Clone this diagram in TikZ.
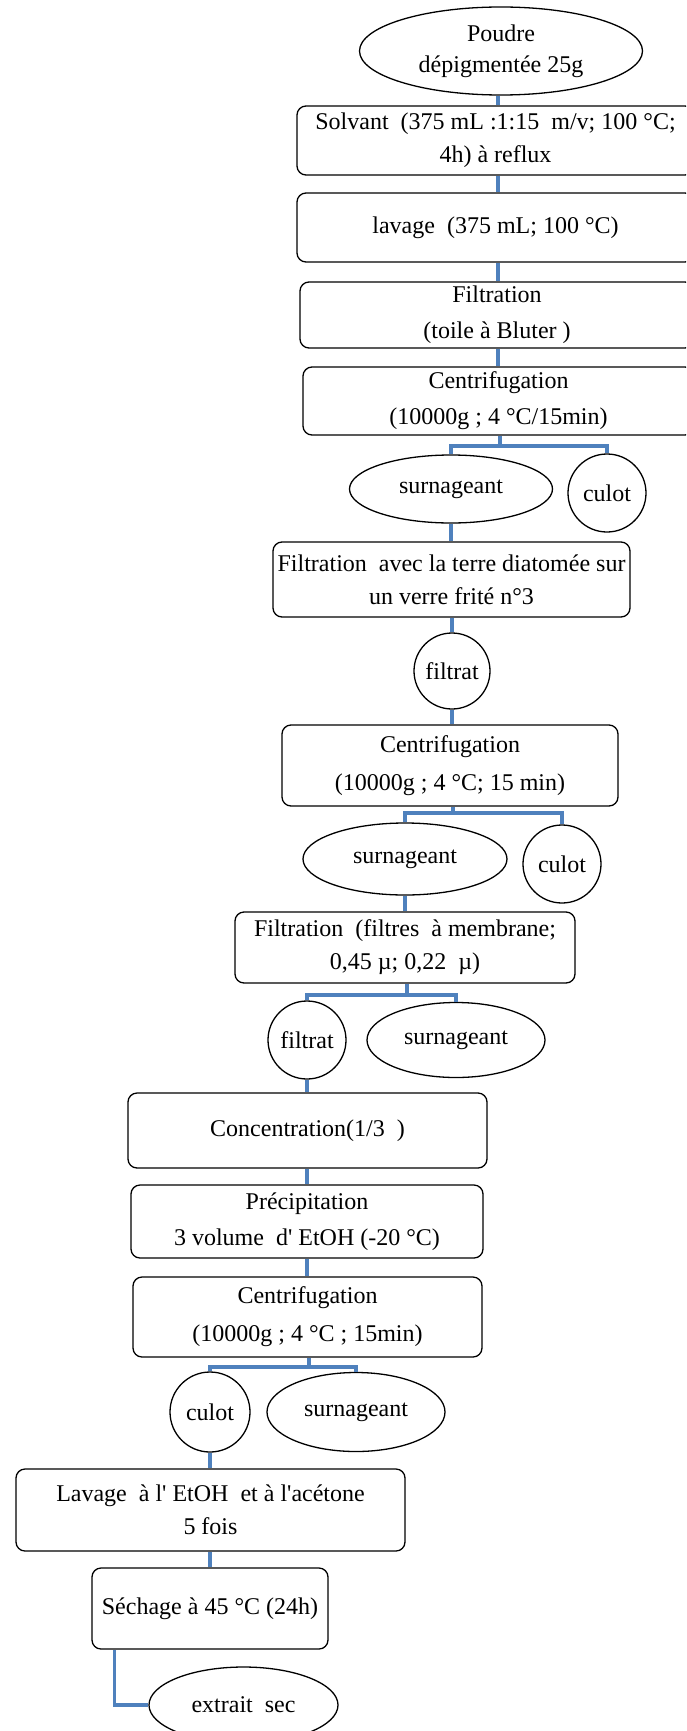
\documentclass[tikz,border=0pt]{standalone}
\usepackage{fontspec}
\setmainfont{Liberation Serif}
\usetikzlibrary{shapes.geometric, positioning}
\definecolor{LinkBlue}{HTML}{4F81BD}
\tikzset{
    % process steps - rounded boxes
    stepbox/.style={
        rectangle,
        rounded corners=9pt,
        draw=black,
        line width=1.3pt,
        inner sep=2pt,
        align=center,
        font=\fontsize{24}{33}\selectfont
    },
    % products - ellipses
    product/.style={
        ellipse,
        draw=black,
        line width=1.3pt,
        inner sep=0pt,
        align=center,
        font=\fontsize{24}{31}\selectfont
    },
    % residues - circles
    residue/.style={
        circle,
        draw=black,
        line width=1.3pt,
        inner sep=0pt,
        minimum size=78pt,
        font=\fontsize{24}{31}\selectfont
    },
    % connectors
    link/.style={
        line width=3.6pt,
        draw=LinkBlue
    }
}
\newcommand{\apos}{\textquotesingle}
\begin{document}
\begin{tikzpicture}[x=1pt, y=-1pt]
    \clip (0,0) rectangle (686,1731);
    \fill[white] (0,0) rectangle (686,1731);

    \node[product, minimum width=283pt, minimum height=88pt] (poud) at (501,51) {Poudre\\dépigmentée 25g};
    \node[stepbox, minimum width=397pt, minimum height=69pt] (solv) at (495.5,140.5) {Solvant\ \ (375 mL :1:15\ \ m/v; 100 °C;\\4h) à reflux};
    \node[stepbox, minimum width=397pt, minimum height=69pt] (lava) at (495.5,227.5) {lavage\ \ (375 mL; 100 °C)};
    \node[stepbox, minimum width=394pt, minimum height=66pt] (filt) at (497,315) {Filtration\\[3pt](toile à Bluter )};
    \node[stepbox, minimum width=391pt, minimum height=68pt] (cenA) at (498.5,401) {Centrifugation\\[3pt](10000g ; 4 °C/15min)};
    \node[product, minimum width=203pt, minimum height=68pt] (surA) at (451,489) {surnageant};
    \node[residue] (culA) at (607,493) {culot};
    \node[stepbox, minimum width=357pt, minimum height=75pt] (diat) at (451.5,579.5) {Filtration\ \ avec la terre diatomée sur\\un verre frité n°3};
    \node[residue, minimum size=76pt] (fltA) at (452,671) {filtrat};
    \node[stepbox, minimum width=336pt, minimum height=81pt] (cenB) at (450,765.5) {Centrifugation\\[5pt](10000g ; 4 °C; 15 min)};
    \node[product, minimum width=204pt, minimum height=72pt] (surB) at (405,859) {surnageant};
    \node[residue] (culB) at (562,864) {culot};
    \node[stepbox, minimum width=340pt, minimum height=71pt] (memb) at (405,947.5) {Filtration\ \ (filtres\ \ à membrane;\\0,45 µ; 0,22\ \ µ)};
    \node[residue] (fltB) at (307,1040) {filtrat};
    \node[product, minimum width=178pt, minimum height=75pt] (surC) at (456,1040) {surnageant};
    \node[stepbox, minimum width=359pt, minimum height=75pt] (conc) at (307.5,1130.5) {Concentration(1/3\ \ )};
    \node[stepbox, minimum width=352pt, minimum height=73pt] (prec) at (307,1221.5) {Précipitation\\[3pt]3 volume\ \ d\apos{} EtOH (-20 °C)};
    \node[stepbox, minimum width=349pt, minimum height=80pt] (cenC) at (307.5,1317) {Centrifugation\\[5pt](10000g ; 4 °C ; 15min)};
    \node[residue, minimum size=80pt] (culC) at (210,1412) {culot};
    \node[product, minimum width=178pt, minimum height=79pt] (surD) at (356,1412) {surnageant};
    \node[stepbox, minimum width=389pt, minimum height=82pt] (lavE) at (210.5,1510) {Lavage\ \ à l\apos{} EtOH\ \ et à l\apos{}acétone\\5 fois};
    \node[stepbox, minimum width=236pt, minimum height=81pt] (sech) at (210,1608.5) {Séchage à 45 °C (24h)};
    \node[product, minimum width=189pt, minimum height=76pt] (extr) at (243.5,1705) {extrait\ \ sec};

    % branching points
    \coordinate (brA) at (500,446);
    \coordinate (brB) at (453,813);
    \coordinate (brC) at (407,995);
    \coordinate (brD) at (309,1367);

    \draw[link] (poud.south -| 498,0) -- (solv.north -| 498,0);
    \draw[link] (solv.south -| 498,0) -- (lava.north -| 498,0);
    \draw[link] (lava.south -| 498,0) -- (filt.north -| 498,0);
    \draw[link] (filt.south -| 498,0) -- (cenA.north -| 498,0);
    \draw[link] (cenA.south -| brA) -- (brA);
    \draw[link] (surA.north) |- (brA) -| (culA.north);
    \draw[link] (surA.south) -- (surA.south |- diat.north);
    \draw[link] (diat.south -| fltA) -- (fltA.north);
    \draw[link] (fltA.south) -- (fltA.south |- cenB.north);
    \draw[link] (cenB.south -| brB) -- (brB);
    \draw[link] (surB.north) |- (brB) -| (culB.north);
    \draw[link] (surB.south) -- (surB.south |- memb.north);
    \draw[link] (memb.south -| brC) -- (brC);
    \draw[link] (fltB.north) |- (brC) -| (surC.north);
    \draw[link] (fltB.south) -- (fltB.south |- conc.north);
    \draw[link] (conc.south -| 307,0) -- (prec.north -| 307,0);
    \draw[link] (prec.south -| 307,0) -- (cenC.north -| 307,0);
    \draw[link] (cenC.south -| brD) -- (brD);
    \draw[link] (culC.north) |- (brD) -| (surD.north);
    \draw[link] (culC.south) -- (culC.south |- lavE.north);
    \draw[link] (lavE.south -| sech) -- (sech.north);
    \draw[link] ([xshift=23pt]sech.south west) |- (extr.west);
\end{tikzpicture}
\end{document}
